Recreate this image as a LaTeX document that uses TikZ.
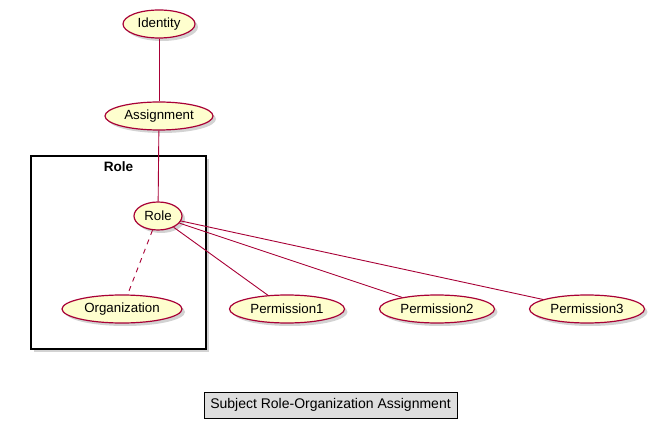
\documentclass[tikz,border=0pt]{standalone}
\usepackage{fontspec}
\setmainfont{Liberation Sans}
\usetikzlibrary{shapes.geometric,shadows}
\definecolor{ucfill}{HTML}{FEFECE}
\definecolor{ucline}{HTML}{A80036}
\tikzset{
  usecase/.style={ellipse,draw=ucline,fill=ucfill,line width=1.2pt,inner sep=0pt,minimum height=28pt,font=\fontsize{13.3}{15}\selectfont,drop shadow={shadow xshift=3pt,shadow yshift=-3pt,opacity=0.35}},
  link/.style={ucline,line width=0.9pt},
  frame/.style={draw=black,line width=1.5pt,fill=white,drop shadow={shadow xshift=3pt,shadow yshift=-3pt,opacity=0.35}}
}
\begin{document}
\begin{tikzpicture}[x=1pt,y=-1pt]
\useasboundingbox (0,0) rectangle (663,427);
% package frame
\node[frame,minimum width=175pt,minimum height=193pt,inner sep=0pt] (pkg) at (118.5,252.5) {};
\node[font=\fontsize{13.6}{15}\selectfont\bfseries] (pkgtitle) at (118.5,167) {Role};
% use cases
\node[usecase,minimum width=72pt] (identity) at (159,24) {Identity};
\node[usecase,minimum width=108pt] (assign) at (159,116) {Assignment};
\node[usecase,minimum width=48pt] (role) at (158,216) {Role};
\node[usecase,minimum width=120pt] (org) at (122,309) {Organization};
\node[usecase,minimum width=115pt] (perm1) at (287,309) {Permission1};
\node[usecase,minimum width=115pt] (perm2) at (437,309) {Permission2};
\node[usecase,minimum width=115pt] (perm3) at (587,309) {Permission3};
%\node at (role) {x};
\draw[link] (identity)--(assign);
\draw[link] (assign)--(role);
\draw[link,dash pattern=on 5pt off 5pt] (role)--(org);
\draw[link] (role)--(perm1);
\draw[link] (role)--(perm2);
\draw[link] (role)--(perm3);
% caption
\node[draw=black,fill=black!13,inner sep=0pt,minimum width=253pt,minimum height=26pt,font=\fontsize{14}{16}\selectfont] (caption) at (330.5,405) {Subject Role-Organization Assignment};
\end{tikzpicture}
\end{document}
